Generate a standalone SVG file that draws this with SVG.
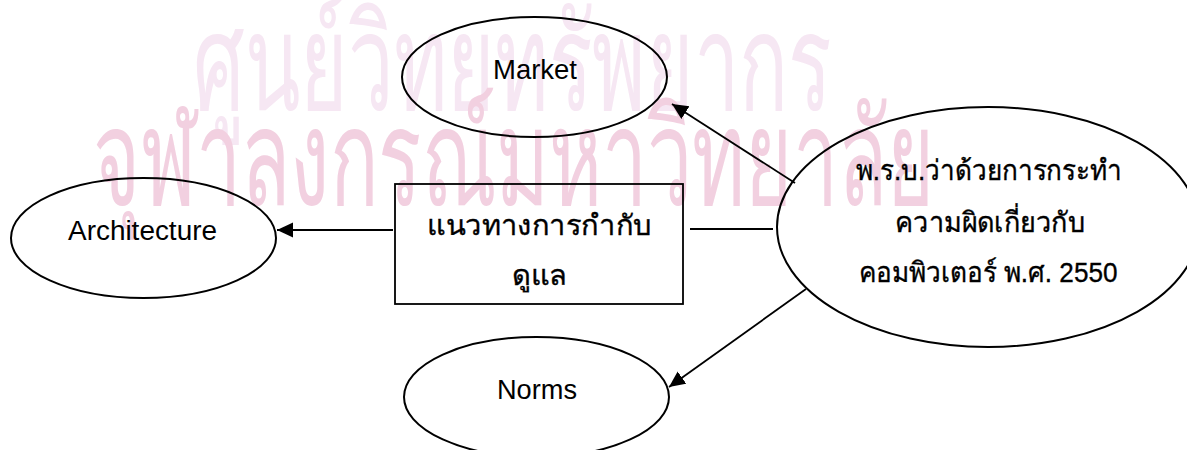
<svg xmlns="http://www.w3.org/2000/svg" width="1187" height="450" viewBox="0 0 1187 450">
<style>
.bg{fill:#ffffff}
.wm{font-family:"Liberation Sans","Noto Sans",sans-serif;font-size:134px}
.wm1{fill:#f6e7f3}
.wm2{fill:#f2d0e0}
.shape{fill:none;stroke:#000;stroke-width:2}
.box{fill:none;stroke:#000;stroke-width:1.8}
.lbl{font-family:"Liberation Sans","Noto Sans",sans-serif;font-size:27.5px;fill:#000;text-anchor:middle}
.th{font-family:"Liberation Sans","Noto Sans",sans-serif;font-size:28px;fill:#000;stroke:#000;stroke-width:0.35;text-anchor:middle}
.conn{stroke:#000;stroke-width:1.8;fill:none}
</style>
<defs>
<marker id="arr" markerUnits="userSpaceOnUse" markerWidth="17" markerHeight="16" refX="16" refY="7.5" orient="auto">
<path d="M0,0 L16,7.5 L0,15 z" fill="#000"/>
</marker>
</defs>
<rect class="bg" x="0" y="0" width="1187" height="450"/>
<g id="watermark">
<text class="wm wm1" x="193" y="110" textLength="639" lengthAdjust="spacingAndGlyphs">ศูนย์วิทยทรัพยากร</text>
<text class="wm wm2" x="93" y="205" textLength="842" lengthAdjust="spacingAndGlyphs">จุฬาลงกรณ์มหาวิทยาลัย</text>
</g>
<g id="connectors">
<line class="conn" x1="393" y1="230" x2="277" y2="230" marker-end="url(#arr)"/>
<line class="conn" x1="690" y1="229" x2="773" y2="229"/>
<line class="conn" x1="795" y1="183" x2="672" y2="104" marker-end="url(#arr)"/>
<line class="conn" x1="806" y1="289" x2="669" y2="387" marker-end="url(#arr)"/>
</g>
<g id="market">
<ellipse class="shape" cx="534.5" cy="77" rx="132.5" ry="60"/>
<text class="lbl" x="535" y="79" textLength="84" lengthAdjust="spacingAndGlyphs">Market</text>
</g>
<g id="architecture">
<ellipse class="shape" cx="143.5" cy="238" rx="132.5" ry="60"/>
<text class="lbl" x="142.5" y="240" textLength="149" lengthAdjust="spacingAndGlyphs">Architecture</text>
</g>
<g id="norms">
<ellipse class="shape" cx="536.5" cy="397" rx="132.5" ry="60"/>
<text class="lbl" x="537" y="399" textLength="80" lengthAdjust="spacingAndGlyphs">Norms</text>
</g>
<g id="guideline">
<rect class="box" x="395" y="184" width="288" height="120"/>
<text class="th" x="539.5" y="235" textLength="225" lengthAdjust="spacingAndGlyphs">แนวทางการกำกับ</text>
<text class="th" x="539.5" y="285" textLength="55" lengthAdjust="spacingAndGlyphs">ดูแล</text>
</g>
<g id="act">
<ellipse class="shape" cx="988" cy="227" rx="211" ry="120"/>
<text class="th" x="989" y="180" textLength="266" lengthAdjust="spacingAndGlyphs">พ.ร.บ.ว่าด้วยการกระทำ</text>
<text class="th" x="990" y="232" textLength="190" lengthAdjust="spacingAndGlyphs">ความผิดเกี่ยวกับ</text>
<text class="th" x="988" y="282" textLength="259" lengthAdjust="spacingAndGlyphs">คอมพิวเตอร์ พ.ศ. 2550</text>
</g>
</svg>
